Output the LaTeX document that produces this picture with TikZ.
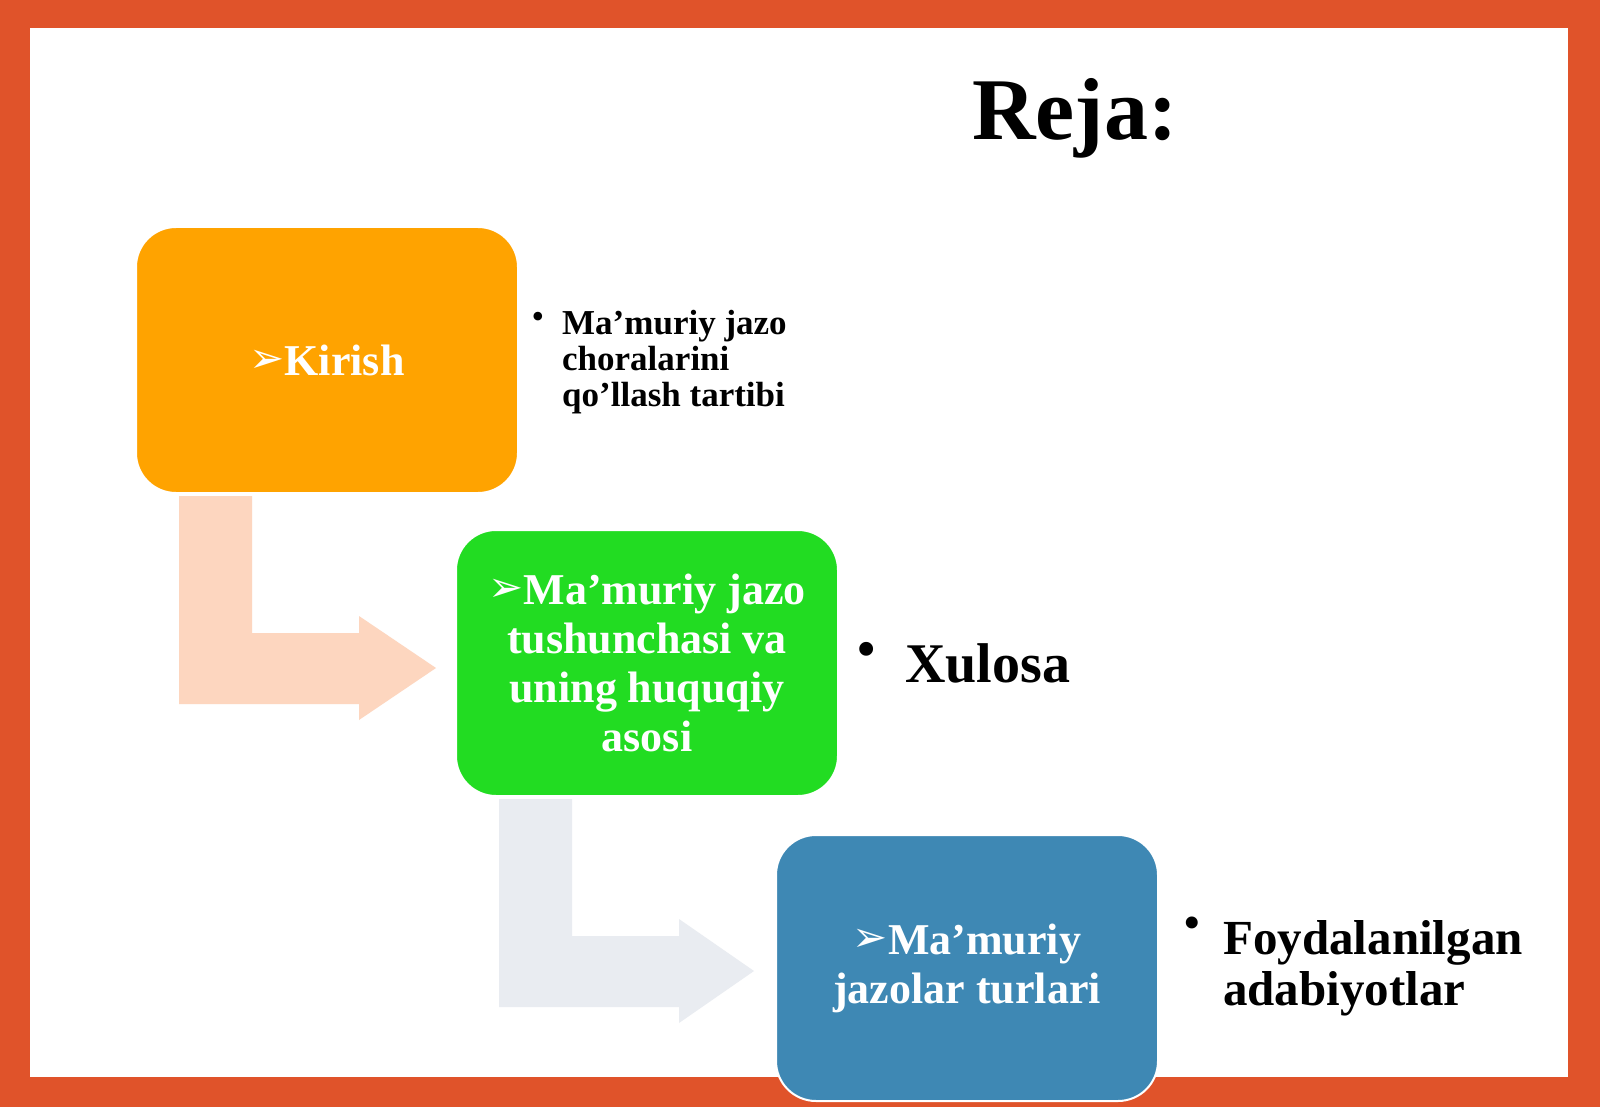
\documentclass[tikz,border=0pt]{standalone}
\usepackage{fontspec}
\setmainfont{Liberation Serif}
\newfontfamily\djv{DejaVu Sans}
\definecolor{framecol}{HTML}{E0532A}
\definecolor{orangebox}{HTML}{FFA300}
\definecolor{greenbox}{HTML}{22DC22}
\definecolor{bluebox}{HTML}{3E88B4}
\definecolor{arrowA}{HTML}{FDD6BF}
\definecolor{arrowB}{HTML}{E9ECF1}
\newcommand{\arr}{\raisebox{3pt}{\djv\fontsize{42}{42}\selectfont ➢}}
\begin{document}
\begin{tikzpicture}[x=1pt,y=-1pt,
  stepbox/.style={rounded corners=40pt, minimum width=382pt, minimum height=266pt,
    draw=white, line width=2pt, text=white, inner sep=0pt, align=center,
    font=\bfseries\fontsize{44}{49}\selectfont},
  sidetext/.style={anchor=base west, inner sep=0pt, font=\bfseries\fontsize{35}{37}\selectfont},
  bigtext/.style={anchor=base west, inner sep=0pt, font=\bfseries\fontsize{49}{51}\selectfont},
  bul/.style={anchor=center, inner sep=0pt},
  lbend/.style={line width=0pt}]
\useasboundingbox (0,0) rectangle (1600,1107);
\fill[framecol] (0,0) rectangle (1600,1107);
\fill[white] (30,28) rectangle (1568,1077);

\node[anchor=base west, inner sep=0pt, font=\bfseries\fontsize{88}{90}\selectfont] (title) at (972,140) {Reja:};

\node[stepbox, fill=orangebox] (b1) at (327,360) {\arr Kirish};
\node[stepbox, fill=greenbox] (b2) at (647,663) {\arr Ma’muriy jazo\\tushunchasi va\\uning huquqiy\\asosi};
\node[stepbox, fill=bluebox] (b3) at (967,968) {\arr Ma’muriy\\jazolar turlari};

% bent arrows
\fill[arrowA, shift={(b1.south west)}] (44,2) -- (117,2) -- (117,139) -- (224,139) -- (224,122)
  -- (301,174) -- (224,226) -- (224,210) -- (44,210) -- cycle;
\fill[arrowB, shift={(b2.south west)}] (44,2) -- (117,2) -- (117,139) -- (224,139) -- (224,122)
  -- (299,174) -- (224,226) -- (224,210) -- (44,210) -- cycle;

% side texts
\node[bul, font=\fontsize{36}{36}\selectfont] (d1) at (538,320) {•};
\node[sidetext] (s1a) at (562,334) {Ma’muriy jazo};
\node[sidetext] (s1b) at (562,370) {choralarini};
\node[sidetext] (s1c) at (562,406) {qo’llash tartibi};

\node[bul, font=\fontsize{58}{58}\selectfont] (d2) at (867,655) {•};
\node[anchor=base west, inner sep=0pt, font=\bfseries\fontsize{56}{58}\selectfont] (s2) at (905,682) {Xulosa};

\node[bul, font=\fontsize{50}{50}\selectfont] (d3) at (1192,928) {•};
\node[bigtext] (s3a) at (1223,954) {Foydalanilgan};
\node[bigtext] (s3b) at (1223,1005) {adabiyotlar};
\end{tikzpicture}
\end{document}
